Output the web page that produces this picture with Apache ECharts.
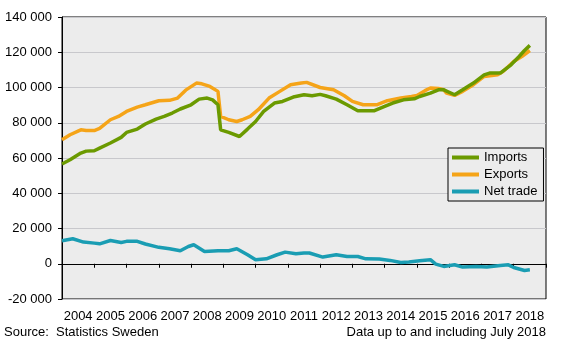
<!DOCTYPE html>
<html>
<head>
<meta charset="utf-8">
<script src="https://cdn.jsdelivr.net/npm/echarts@6/dist/echarts.min.js"></script>
<style>
  html, body { margin: 0; padding: 0; background: #fff; }
  #chart { width: 568px; height: 341px; }
</style>
</head>
<body>
<div id="chart"></div>
<script>
// Year labels along the bottom axis
const years = ['2004','2005','2006','2007','2008','2009','2010','2011','2012','2013','2014','2015','2016','2017','2018'];

// [months since January 2004, SEK million]
const imports = [
  [0,56600],[3,59000],[7,62800],[9,63900],[12,64100],[14,65600],[18,68500],[22,71700],
  [24,74500],[28,76400],[31,79300],[35,82100],[38,83600],[41,85500],[44,87800],[48,90200],
  [51,93400],[54,94000],[56,93000],[58,90200],[59,76000],[62,74500],[66,72200],[69,76400],
  [72,80700],[75,86400],[79,91200],[82,92100],[86,94600],[90,95900],[93,95300],[96,96100],
  [98,95300],[102,93400],[106,90200],[110,86800],[116,86800],[120,89300],[123,91200],[127,93000],
  [131,93600],[133,94900],[137,96800],[140,98700],[142,98700],[146,95900],[149,98700],[153,102500],
  [157,107200],[159,108200],[163,108200],[167,112900],[170,117600],[172,121000],[174,123900]
];

const exportsData = [
  [0,70400],[3,73200],[7,76000],[9,75600],[12,75600],[14,76800],[18,81700],[21,83600],
  [24,86400],[28,88900],[31,90200],[36,92500],[40,92700],[43,94000],[46,98500],[50,102500],
  [52,102100],[55,100600],[58,97800],[59,83600],[62,81700],[65,80700],[67,81700],[70,83600],
  [73,87400],[77,94000],[81,97800],[85,101600],[89,102500],[91,102900],[96,100000],[101,98700],
  [105,95300],[108,92100],[112,90200],[117,90200],[121,92500],[126,94000],[130,94900],[132,95500],
  [135,98200],[137,99700],[140,99400],[142,98700],[143,96800],[146,95500],[149,97800],[153,101600],
  [157,106300],[162,107200],[164,109100],[168,114800],[171,117600],[174,121000]
];

const netTrade = [
  [0,13050],[4,14200],[8,12300],[12,11700],[14,11300],[18,13200],[22,12100],[24,12700],
  [28,12700],[31,11200],[36,9300],[40,8500],[44,7400],[47,9800],[49,10800],[53,7000],
  [58,7400],[62,7400],[65,8500],[69,5100],[72,2300],[76,2800],[80,5100],[83,6600],
  [87,5700],[90,6100],[92,6100],[97,3800],[102,5100],[106,4100],[110,4100],[113,2800],
  [118,2700],[122,1900],[126,700],[129,1000],[133,1700],[137,2300],[139,-200],[142,-1500],
  [146,-600],[149,-1900],[154,-1500],[158,-1900],[163,-1000],[166,-600],[168,-2100],[172,-3800],
  [174,-3400]
];

const FONT = '"Liberation Sans", Arial, sans-serif';
const fmt = v => {
  const s = Math.abs(v).toString().replace(/\B(?=(\d{3})+(?!\d))/g, ' ');
  return (v < 0 ? '-' : '') + s;
};

const chart = echarts.init(document.getElementById('chart'), null, { renderer: 'canvas' });

chart.setOption({
  animation: false,
  textStyle: { fontFamily: FONT },
  grid: {
    left: 62, right: 22, top: 17, bottom: 42,
    show: true, backgroundColor: '#ececec', borderColor: '#000', borderWidth: 1
  },
  legend: {
    orient: 'vertical',
    left: 448, top: 148,
    padding: [3, 6, 3, 4],
    borderColor: '#000', borderWidth: 1,
    backgroundColor: '#ececec',
    itemWidth: 27, itemHeight: 4, itemGap: 4,
    icon: 'rect',
    textStyle: { fontFamily: FONT, fontSize: 13, color: '#000' },
    data: ['Imports', 'Exports', 'Net trade']
  },
  xAxis: [
    {
      type: 'value', min: 0, max: 180, interval: 12,
      axisLine: { show: true, lineStyle: { color: '#000' } },
      axisTick: { show: true, length: 4, lineStyle: { color: '#000' } },
      axisLabel: { show: false },
      splitLine: { show: false }
    },
    {
      type: 'category', data: years, boundaryGap: true, position: 'bottom',
      axisLine: { show: false }, axisTick: { show: false },
      axisLabel: { fontFamily: FONT, fontSize: 13, color: '#000', margin: 11, interval: 0, hideOverlap: false },
      splitLine: { show: false }
    }
  ],
  yAxis: {
    type: 'value', min: -20000, max: 140000, interval: 20000,
    axisLine: { show: true, lineStyle: { color: '#000' } },
    axisTick: { show: true, length: 4, lineStyle: { color: '#000' } },
    axisLabel: { fontFamily: FONT, fontSize: 13, color: '#000', margin: 10, formatter: fmt },
    splitLine: { show: true, lineStyle: { color: '#c8c8cc', width: 1 } }
  },
  graphic: [
    { type: 'text', left: 4, top: 326,
      style: { text: 'Source:  Statistics Sweden', font: '13px ' + FONT, fill: '#000' } },
    { type: 'text', right: 22, top: 326,
      style: { text: 'Data up to and including July 2018', font: '13px ' + FONT, fill: '#000' } }
  ],
  series: [
    { name: 'Imports', type: 'line', data: imports, showSymbol: false, smooth: false,
      color: '#6b9a00', lineStyle: { width: 3.5, color: '#6b9a00' }, z: 3 },
    { name: 'Exports', type: 'line', data: exportsData, showSymbol: false,
      color: '#f5a418', lineStyle: { width: 3.5, color: '#f5a418' }, z: 2 },
    { name: 'Net trade', type: 'line', data: netTrade, showSymbol: false,
      color: '#1a9db3', lineStyle: { width: 3.5, color: '#1a9db3' }, z: 2 }
  ]
});
</script>
</body>
</html>
